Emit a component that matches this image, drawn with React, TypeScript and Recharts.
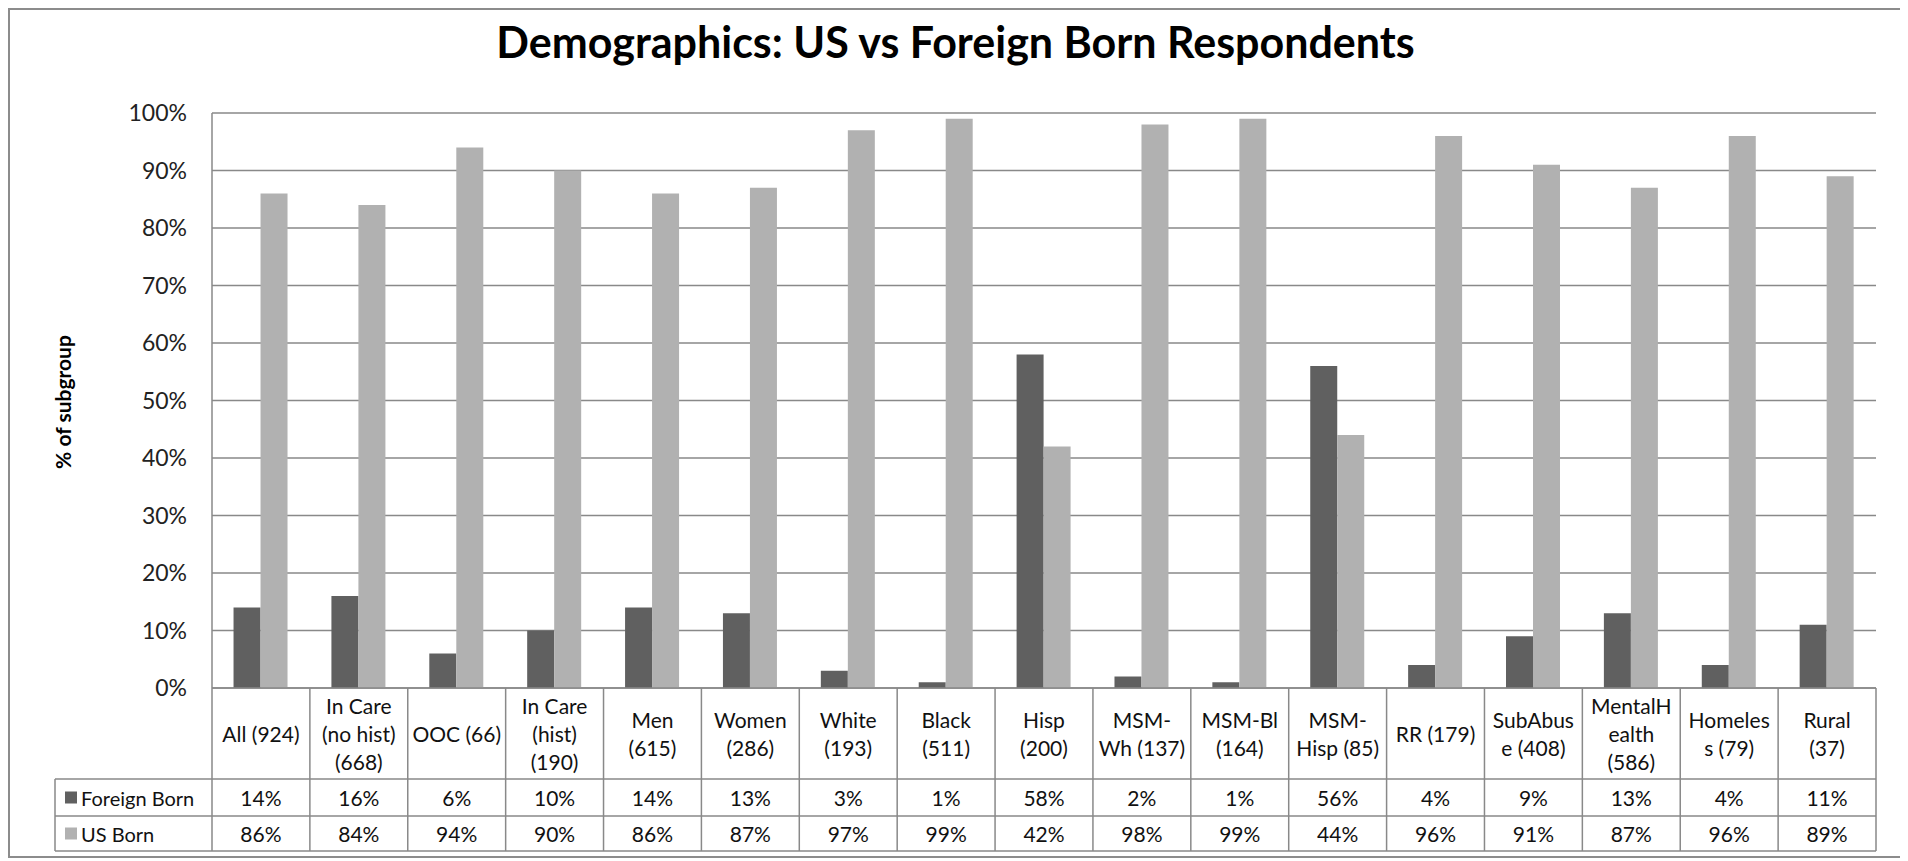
import React from "react";
import { BarChart, Bar, XAxis, YAxis, CartesianGrid } from "recharts";

// category labels, wrapped the way the data table shows them
const categories = [
  "All (924)",
  "In Care\n(no hist)\n(668)",
  "OOC (66)",
  "In Care\n(hist)\n(190)",
  "Men\n(615)",
  "Women\n(286)",
  "White\n(193)",
  "Black\n(511)",
  "Hisp\n(200)",
  "MSM-\nWh (137)",
  "MSM-Bl\n(164)",
  "MSM-\nHisp (85)",
  "RR (179)",
  "SubAbus\ne (408)",
  "MentalH\nealth\n(586)",
  "Homeles\ns (79)",
  "Rural\n(37)",
];

const foreignBorn = [14, 16, 6, 10, 14, 13, 3, 1, 58, 2, 1, 56, 4, 9, 13, 4, 11];
const usBorn = [86, 84, 94, 90, 86, 87, 97, 99, 42, 98, 99, 44, 96, 91, 87, 96, 89];

const seriesNames = ["Foreign Born", "US Born"];
const yTicks = [0, 10, 20, 30, 40, 50, 60, 70, 80, 90, 100];

const DARK = "#606060";
const LIGHT = "#b1b1b1";
const GRID = "#898989";
const FONT = "Lato, 'Open Sans', sans-serif";

const W = 1891;
const H = 846;
const MARGIN = { top: 103, right: 25, left: 142, bottom: 5 };
const Y_W = 60;
const HEADER_H = 91;
const ROW1_H = 37;
const ROW2_H = 35;
const TABLE_H = HEADER_H + ROW1_H + ROW2_H;
const LEGEND_W = 157;

const data = categories.map((label, i) => ({
  label,
  foreign: foreignBorn[i],
  us: usBorn[i],
}));

const plotW = W - MARGIN.left - Y_W - MARGIN.right;
const colW = plotW / categories.length;

function TableTick(props: any) {
  const { x, y, payload, index } = props;
  const lines = String(payload.value).split("\n");
  const lineH = 28;
  const headerMid = y + HEADER_H / 2;
  const firstY = headerMid - ((lines.length - 1) * lineH) / 2;
  const left = x - colW / 2;
  const right = x + colW / 2;
  const txt = { fontFamily: FONT, fill: "#111" } as const;

  return (
    <g>
      {index === 0 && (
        <g>
          {/* legend column and horizontal rules of the data table */}
          <line x1={left} y1={y} x2={left} y2={y + TABLE_H} stroke={GRID} strokeWidth={1.5} />
          <line x1={left - LEGEND_W} y1={y + HEADER_H} x2={left - LEGEND_W} y2={y + TABLE_H} stroke={GRID} strokeWidth={1.5} />
          {[HEADER_H, HEADER_H + ROW1_H, TABLE_H].map((dy) => (
            <line
              key={dy}
              x1={left - LEGEND_W}
              y1={y + dy}
              x2={left + colW * categories.length}
              y2={y + dy}
              stroke={GRID}
              strokeWidth={1.5}
            />
          ))}
          {seriesNames.map((name, k) => {
            const cy = k === 0 ? y + HEADER_H + ROW1_H / 2 : y + HEADER_H + ROW1_H + ROW2_H / 2;
            return (
              <g key={name}>
                <rect x={left - LEGEND_W + 10} y={cy - 6} width={12} height={12} fill={k === 0 ? DARK : LIGHT} />
                <text x={left - LEGEND_W + 26} y={cy} dominantBaseline="central" fontSize={20} {...txt}>
                  {name}
                </text>
              </g>
            );
          })}
        </g>
      )}
      <line x1={right} y1={y} x2={right} y2={y + TABLE_H} stroke={GRID} strokeWidth={1.5} />
      {lines.map((ln, k) => (
        <text
          key={k}
          x={x}
          y={firstY + k * lineH}
          textAnchor="middle"
          dominantBaseline="central"
          fontSize={21}
          {...txt}
        >
          {ln}
        </text>
      ))}
      <text x={x} y={y + HEADER_H + ROW1_H / 2} textAnchor="middle" dominantBaseline="central" fontSize={21} {...txt}>
        {foreignBorn[index]}%
      </text>
      <text x={x} y={y + HEADER_H + ROW1_H + ROW2_H / 2} textAnchor="middle" dominantBaseline="central" fontSize={21} {...txt}>
        {usBorn[index]}%
      </text>
    </g>
  );
}

export default function App() {
  return (
    <div
      style={{
        position: "relative",
        width: W,
        height: H,
        border: "2px solid #8c8c8c",
        background: "#fff",
        fontFamily: FONT,
      }}
    >
      <div
        style={{
          position: "absolute",
          left: 0,
          top: 10,
          width: W,
          textAlign: "center",
          fontSize: 43,
          lineHeight: "43px",
          fontWeight: 700,
          color: "#000",
        }}
      >
        Demographics: US vs Foreign Born Respondents
      </div>
      <div
        style={{
          position: "absolute",
          left: 52,
          top: 392,
          transform: "translate(-50%, -50%) rotate(-90deg)",
          fontSize: 21,
          fontWeight: 700,
          whiteSpace: "nowrap",
          color: "#000",
        }}
      >
        % of subgroup
      </div>
      <BarChart width={W} height={H} data={data} margin={MARGIN} barCategoryGap="22%" barGap={0}>
        <CartesianGrid vertical={false} stroke={GRID} strokeWidth={1.5} />
        <XAxis
          dataKey="label"
          interval={0}
          height={TABLE_H}
          tickLine={false}
          tickSize={0}
          tickMargin={0}
          axisLine={{ stroke: GRID, strokeWidth: 1.5 }}
          tick={(p: any) => <TableTick {...p} />}
        />
        <YAxis
          width={Y_W}
          domain={[0, 100]}
          ticks={yTicks}
          interval={0}
          tickLine={false}
          tickSize={0}
          tickMargin={25}
          axisLine={{ stroke: GRID, strokeWidth: 1.5 }}
          tickFormatter={(v: number) => `${v}%`}
          tick={{ fill: "#222", fontSize: 23, fontFamily: FONT }}
        />
        <Bar dataKey="foreign" name={seriesNames[0]} fill={DARK} isAnimationActive={false} />
        <Bar dataKey="us" name={seriesNames[1]} fill={LIGHT} isAnimationActive={false} />
      </BarChart>
    </div>
  );
}
